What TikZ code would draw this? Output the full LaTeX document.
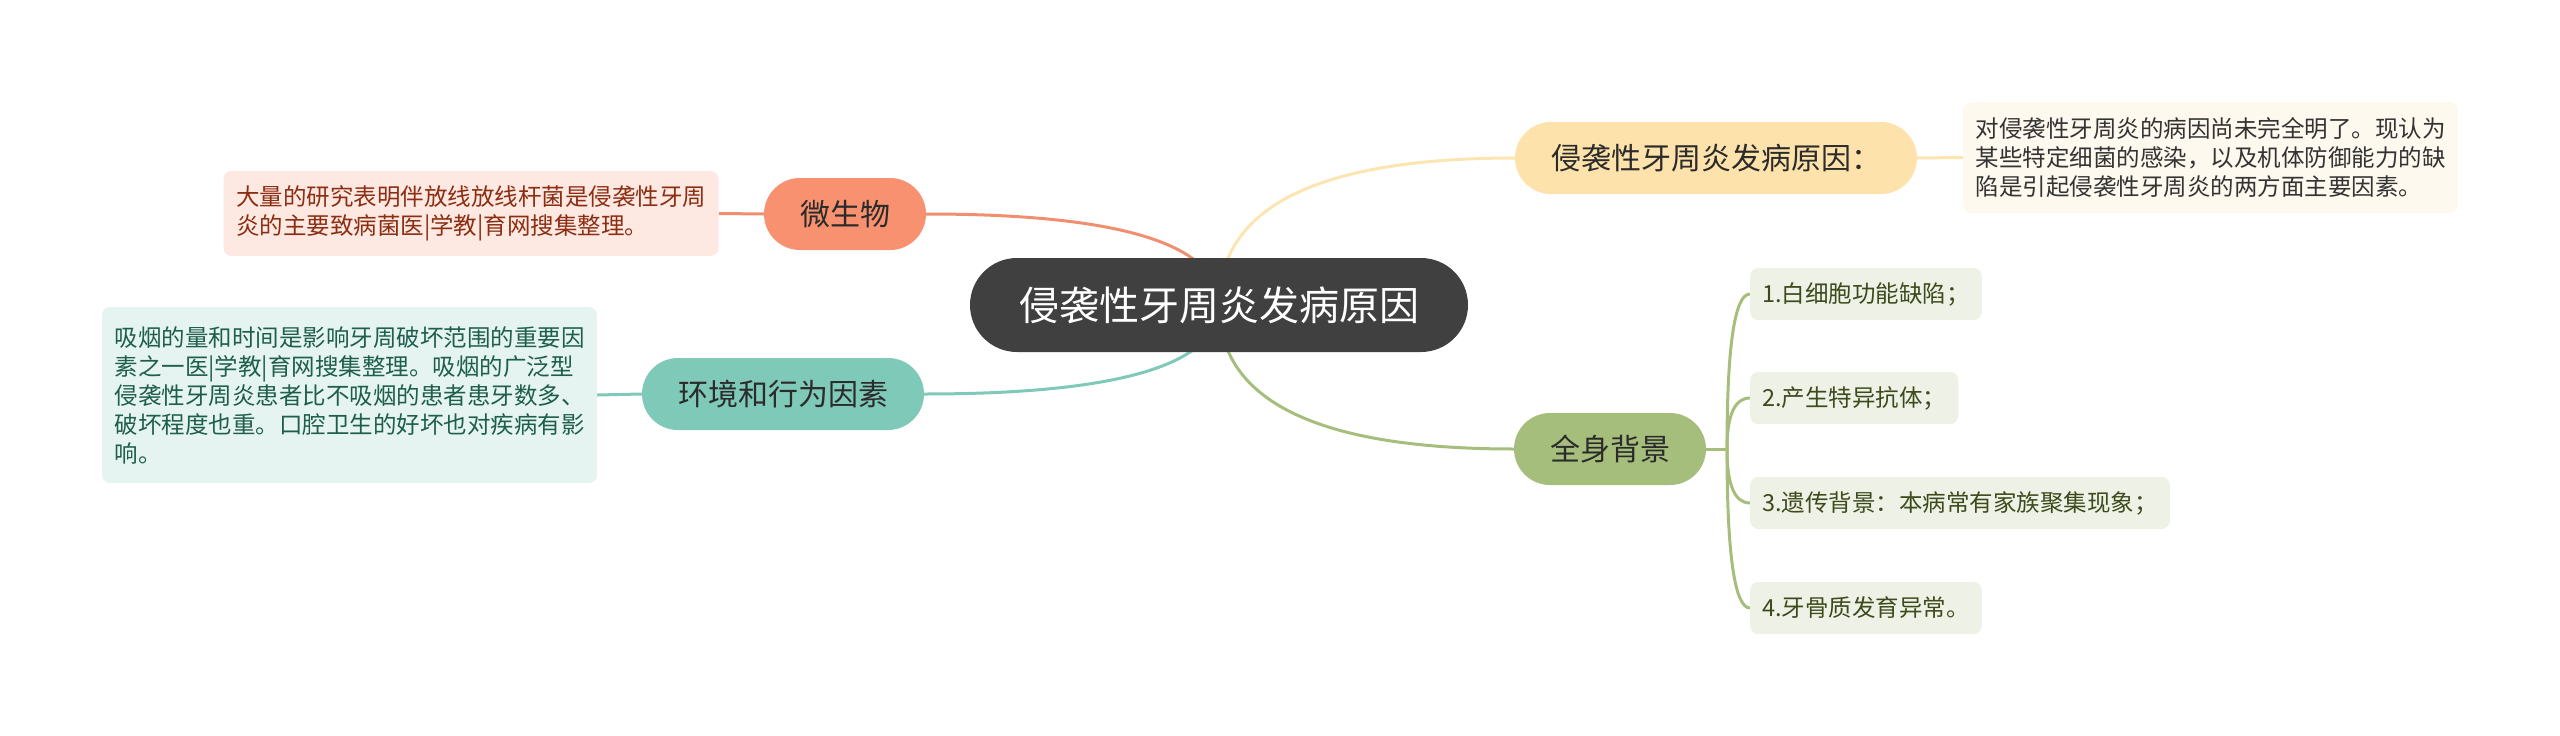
\documentclass[tikz,border=0pt]{standalone}
\usepackage{fontspec}
\setmainfont{Noto Sans CJK SC}
\usetikzlibrary{calc,backgrounds}
\definecolor{cfill}{HTML}{404040}
\definecolor{mfill}{HTML}{F8916F}
\definecolor{mline}{HTML}{EF8F70}
\definecolor{mbox}{HTML}{FDE8E2}
\definecolor{mtext}{HTML}{8B2E12}
\definecolor{efill}{HTML}{7FC9B8}
\definecolor{ebox}{HTML}{E6F4F1}
\definecolor{etext}{HTML}{1E5E4C}
\definecolor{yfill}{HTML}{FDE3AB}
\definecolor{yline}{HTML}{FCE5B0}
\definecolor{ybox}{HTML}{FEF9EE}
\definecolor{ytext}{HTML}{333333}
\definecolor{gfill}{HTML}{A6BE7C}
\definecolor{gbox}{HTML}{EEF2E6}
\definecolor{gtext}{HTML}{3D4A1C}
\definecolor{ntext}{HTML}{2B2B2B}
\newcommand\mmcurve[3]{%
  \draw[#1] (#2) .. controls ($(#2)!0.6667!(#2 |- #3)$) and ($(#3)!0.6667!(#2 |- #3)$) .. (#3);}
\tikzset{
  x=1pt,y=-1pt,
  centralnode/.style={fill=cfill, text=white, rounded corners=47pt, minimum width=498pt, minimum height=94pt, inner sep=0pt, font=\fontsize{40}{48}\selectfont},
  mainnode/.style={rounded corners=36pt, minimum height=72pt, inner xsep=36pt, inner ysep=0pt, text=ntext, font=\fontsize{30}{36}\selectfont},
  textbox/.style={rounded corners=8pt, inner xsep=12.5pt, inner ysep=0pt, text width=470pt, align=left, font=\fontsize{23.5}{29}\selectfont},
  leafbox/.style={fill=gbox, text=gtext, rounded corners=8pt, anchor=west, inner xsep=12pt, inner ysep=0pt, minimum height=52pt, font=\fontsize{23.5}{29}\selectfont},
  conn/.style={line width=3pt},
}
\begin{document}
\begin{tikzpicture}
\useasboundingbox (0,0) rectangle (2560,736);
% central
\node[centralnode] (central) at (1219,305) {侵袭性牙周炎发病原因};
% left branches
\node[mainnode, fill=mfill] (micro) at (845,214) {微生物};
\node[textbox, fill=mbox, text=mtext, minimum height=85pt] (microtxt) at (471,213.5) {大量的研究表明伴放线放线杆菌是侵袭性牙周\\炎的主要致病菌医|学教|育网搜集整理。};
\node[mainnode, fill=efill] (env) at (783,394) {环境和行为因素};
\node[textbox, fill=ebox, text=etext, minimum height=176pt] (envtxt) at (349.5,395) {吸烟的量和时间是影响牙周破坏范围的重要因\\素之一医|学教|育网搜集整理。吸烟的广泛型\\侵袭性牙周炎患者比不吸烟的患者患牙数多、\\破坏程度也重。口腔卫生的好坏也对疾病有影\\响。};
% right branches
\node[mainnode, fill=yfill] (yel) at (1716,158) {侵袭性牙周炎发病原因：};
\node[textbox, fill=ybox, text=ytext, minimum height=111pt] (yeltxt) at (2210.5,157.5) {对侵袭性牙周炎的病因尚未完全明了。现认为\\某些特定细菌的感染，以及机体防御能力的缺\\陷是引起侵袭性牙周炎的两方面主要因素。};
\node[mainnode, fill=gfill] (green) at (1610,449) {全身背景};
\coordinate (gj) at (1727,449);
\node[leafbox] (l1) at (1750,294) {1.白细胞功能缺陷；};
\node[leafbox] (l2) at (1750,398) {2.产生特异抗体；};
\node[leafbox] (l3) at (1750,503) {3.遗传背景：本病常有家族聚集现象；};
\node[leafbox] (l4) at (1750,608) {4.牙骨质发育异常。};
\begin{scope}[on background layer]
  \mmcurve{conn, mline}{central.center}{micro.east}
  \mmcurve{conn, efill}{central.center}{env.east}
  \mmcurve{conn, yline}{central.center}{yel.west}
  \mmcurve{conn, gfill}{central.center}{green.west}
  \draw[conn, mline] (micro.west) -- (microtxt.east);
  \draw[conn, efill] (env.west) -- (envtxt.east);
  \draw[conn, yline] (yel.east) -- (yeltxt.west);
  \draw[conn, gfill] (green.east) -- (gj);
  \mmcurve{conn, gfill}{gj}{l1.west}
  \mmcurve{conn, gfill}{gj}{l2.west}
  \mmcurve{conn, gfill}{gj}{l3.west}
  \mmcurve{conn, gfill}{gj}{l4.west}
\end{scope}
\end{tikzpicture}
\end{document}
